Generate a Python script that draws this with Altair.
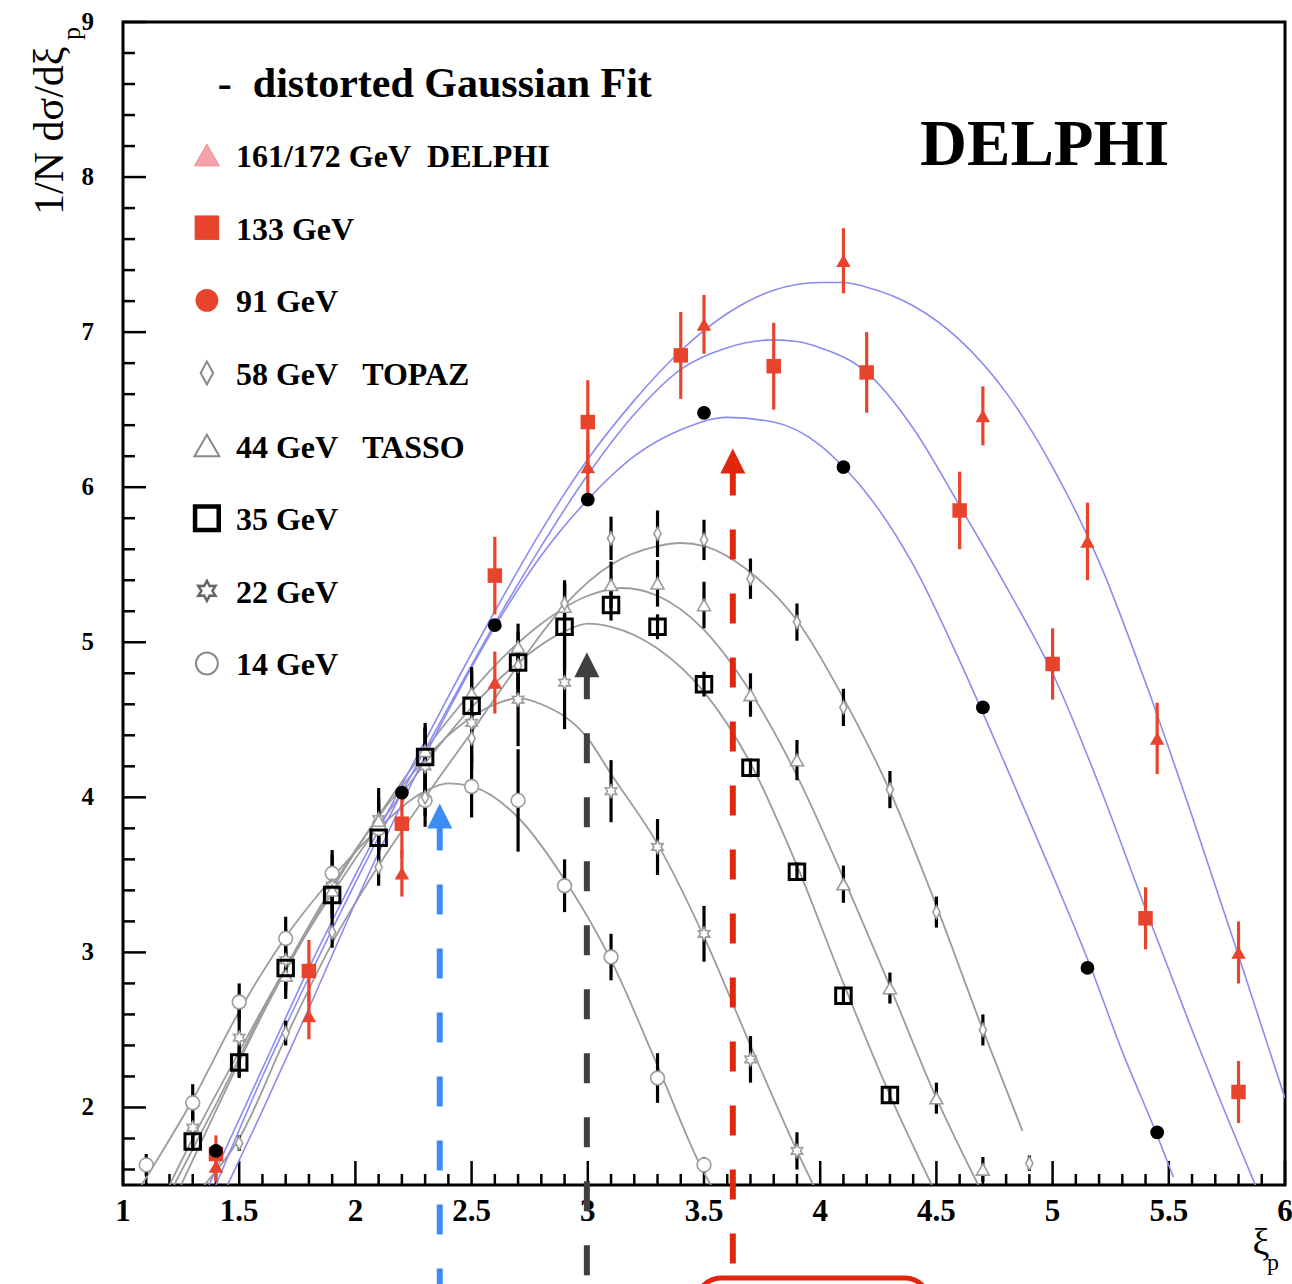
import altair as alt
import pandas as pd

# ---------------------------------------------------------------------------
# Charged-particle xi_p = ln(1/x_p) spectra, (1/N) dsigma/dxi_p, per energy
# ---------------------------------------------------------------------------
# DELPHI 161/172 GeV
xi_161 = [1.4, 1.8, 2.2, 2.6, 3.0, 3.5, 4.1, 4.7, 5.15, 5.45, 5.8]
val_161 = [1.62, 2.59, 3.51, 4.74, 6.13, 7.05, 7.46, 6.46, 5.65, 4.38, 3.0]
err_161 = [0.1, 0.15, 0.15, 0.2, 0.17, 0.19, 0.21, 0.19, 0.25, 0.23, 0.2]

# DELPHI 133 GeV
xi_133 = [1.4, 1.8, 2.2, 2.6, 3.0, 3.4, 3.8, 4.2, 4.6, 5.0, 5.4, 5.8]
val_133 = [1.70, 2.88, 3.83, 5.43, 6.42, 6.85, 6.78, 6.74, 5.85, 4.86, 3.22, 2.10]
err_133 = [0.12, 0.2, 0.22, 0.25, 0.27, 0.28, 0.28, 0.26, 0.25, 0.23, 0.2, 0.2]

# DELPHI 91 GeV
xi_91 = [1.4, 2.2, 2.6, 3.0, 3.5, 4.1, 4.7, 5.15, 5.45]
val_91 = [1.72, 4.03, 5.11, 5.92, 6.48, 6.13, 4.58, 2.90, 1.84]

# TOPAZ 58 GeV
xi_58 = [1.5, 1.7, 1.9, 2.1, 2.3, 2.5, 2.7, 2.9, 3.1, 3.3, 3.5, 3.7, 3.9, 4.1, 4.3, 4.5, 4.7, 4.9]
val_58 = [1.77, 2.48, 3.13, 3.55, 4.00, 4.38, 4.85, 5.25, 5.67, 5.70, 5.66, 5.41, 5.13, 4.58, 4.05, 3.26, 2.50, 1.64]
err_58 = [0.05, 0.08, 0.1, 0.12, 0.12, 0.15, 0.15, 0.15, 0.14, 0.15, 0.13, 0.13, 0.12, 0.12, 0.12, 0.1, 0.1, 0.05]

# TASSO 44 GeV
xi_44 = [1.7, 1.9, 2.1, 2.3, 2.5, 2.7, 2.9, 3.1, 3.3, 3.5, 3.7, 3.9, 4.1, 4.3, 4.5, 4.7]
val_44 = [2.85, 3.40, 3.85, 4.30, 4.67, 4.97, 5.23, 5.37, 5.38, 5.24, 4.66, 4.24, 3.44, 2.77, 2.06, 1.60]
err_44 = [0.15, 0.15, 0.15, 0.15, 0.15, 0.15, 0.15, 0.15, 0.15, 0.15, 0.14, 0.13, 0.12, 0.1, 0.1, 0.08]

# 35 GeV
xi_35 = [1.3, 1.5, 1.7, 1.9, 2.1, 2.3, 2.5, 2.7, 2.9, 3.1, 3.3, 3.5, 3.7, 3.9, 4.1, 4.3]
val_35 = [1.78, 2.29, 2.90, 3.37, 3.74, 4.26, 4.59, 4.87, 5.10, 5.24, 5.10, 4.73, 4.19, 3.52, 2.72, 2.08]
err_35 = [0.06, 0.1, 0.12, 0.15, 0.15, 0.22, 0.25, 0.2, 0.27, 0.1, 0.08, 0.08, 0.06, 0.06, 0.05, 0.05]

# 22 GeV
xi_22 = [1.3, 1.5, 1.7, 1.9, 2.1, 2.3, 2.5, 2.7, 2.9, 3.1, 3.3, 3.5, 3.7, 3.9]
val_22 = [1.87, 2.45, 2.95, 3.43, 3.86, 4.20, 4.48, 4.63, 4.74, 4.04, 3.68, 3.12, 2.31, 1.72]
err_22 = [0.1, 0.25, 0.2, 0.2, 0.2, 0.25, 0.3, 0.3, 0.3, 0.2, 0.18, 0.18, 0.15, 0.12]

# 14 GeV
xi_14 = [1.1, 1.3, 1.5, 1.7, 1.9, 2.1, 2.3, 2.5, 2.7, 2.9, 3.1, 3.3, 3.5]
val_14 = [1.63, 2.03, 2.68, 3.09, 3.51, 3.80, 3.98, 4.07, 3.98, 3.43, 2.97, 2.19, 1.63]
err_14 = [0.07, 0.12, 0.12, 0.14, 0.15, 0.15, 0.17, 0.2, 0.33, 0.17, 0.15, 0.16, 0.05]

# ---------------------------------------------------------------------------
# Distorted-Gaussian fit curves, sampled along xi_p
# ---------------------------------------------------------------------------
fit_xi_161 = [1.37, 1.6, 1.8, 2.0, 2.2, 2.4, 2.6, 2.8, 3.0, 3.2, 3.4, 3.6, 3.8, 4.0, 4.1,
              4.2, 4.4, 4.6, 4.8, 5.0, 5.2, 5.4, 5.6, 5.8, 6.0]
fit_val_161 = [1.5, 2.25, 2.9, 3.5, 4.08, 4.65, 5.2, 5.72, 6.18, 6.56, 6.88, 7.12, 7.27, 7.32, 7.32,
               7.29, 7.17, 6.95, 6.61, 6.13, 5.52, 4.74, 3.88, 2.98, 2.06]

fit_xi_133 = [1.4, 1.6, 1.8, 2.0, 2.2, 2.4, 2.6, 2.8, 3.0, 3.2, 3.4, 3.6, 3.8, 3.9, 4.0,
              4.2, 4.4, 4.6, 4.8, 5.0, 5.2, 5.4, 5.6, 5.8, 5.9]
fit_val_133 = [1.5, 2.2, 2.84, 3.45, 4.03, 4.58, 5.12, 5.62, 6.08, 6.47, 6.76, 6.9, 6.95, 6.94, 6.9,
               6.74, 6.38, 5.88, 5.36, 4.8, 4.08, 3.28, 2.5, 1.76, 1.4]

fit_xi_91 = [1.45, 1.6, 1.8, 2.0, 2.2, 2.4, 2.6, 2.8, 3.0, 3.2, 3.4, 3.6, 3.8, 4.0, 4.1,
             4.2, 4.4, 4.6, 4.8, 5.0, 5.16, 5.3, 5.45, 5.52]
fit_val_91 = [1.5, 1.98, 2.64, 3.32, 3.96, 4.56, 5.1, 5.56, 5.92, 6.2, 6.37, 6.45, 6.42, 6.27, 6.13,
              5.96, 5.5, 4.88, 4.2, 3.5, 2.92, 2.36, 1.82, 1.55]

fit_xi_58 = [1.35, 1.5, 1.7, 1.9, 2.1, 2.3, 2.5, 2.7, 2.9, 3.1, 3.3, 3.4, 3.5, 3.7, 3.9,
             4.1, 4.3, 4.5, 4.7, 4.87]
fit_val_58 = [1.5, 1.8, 2.45, 3.06, 3.56, 4.0, 4.42, 4.85, 5.24, 5.5, 5.62, 5.64, 5.62, 5.45, 5.14,
              4.64, 4.04, 3.3, 2.5, 1.85]

fit_xi_44 = [1.25, 1.4, 1.6, 1.8, 2.0, 2.2, 2.4, 2.6, 2.8, 3.0, 3.15, 3.3, 3.5, 3.7, 3.9,
             4.1, 4.3, 4.5, 4.68]
fit_val_44 = [1.5, 1.98, 2.6, 3.15, 3.65, 4.1, 4.5, 4.85, 5.12, 5.3, 5.35, 5.3, 5.08, 4.68, 4.14,
              3.48, 2.78, 2.06, 1.5]

fit_xi_35 = [1.2, 1.3, 1.5, 1.7, 1.9, 2.1, 2.3, 2.5, 2.7, 2.9, 3.0, 3.1, 3.3, 3.5, 3.7,
             3.9, 4.1, 4.3, 4.48]
fit_val_35 = [1.5, 1.8, 2.36, 2.9, 3.38, 3.82, 4.22, 4.58, 4.87, 5.07, 5.12, 5.1, 4.96, 4.68, 4.22,
              3.56, 2.8, 2.08, 1.5]

fit_xi_22 = [1.22, 1.4, 1.6, 1.8, 2.0, 2.2, 2.4, 2.6, 2.7, 2.8, 3.0, 3.1, 3.3, 3.5, 3.7,
             3.9, 3.98]
fit_val_22 = [1.5, 2.02, 2.62, 3.17, 3.66, 4.07, 4.4, 4.6, 4.64, 4.6, 4.38, 4.15, 3.7, 3.1, 2.4,
              1.72, 1.47]

fit_xi_14 = [1.08, 1.3, 1.5, 1.7, 1.9, 2.1, 2.3, 2.4, 2.5, 2.7, 2.9, 3.1, 3.3, 3.5, 3.53]
fit_val_14 = [1.5, 2.05, 2.62, 3.1, 3.48, 3.8, 4.04, 4.09, 4.07, 3.87, 3.47, 2.95, 2.27, 1.58, 1.5]

# Peak positions marked by arrows (14, 35 and 91 GeV) and the arrow tip heights
peak_xi = [2.363, 2.996, 3.624]
arrow_tip = [3.96, 4.935, 6.25]

# Legend entries
legend_text = [
    "161/172 GeV\u00a0\u00a0DELPHI",
    "133 GeV",
    "\u00a091 GeV",
    "\u00a058 GeV\u00a0\u00a0\u00a0TOPAZ",
    "\u00a044 GeV\u00a0\u00a0\u00a0TASSO",
    "\u00a035 GeV",
    "\u00a022 GeV",
    "\u00a014 GeV",
]

# Axis ticks and their labels
x_major = [1, 1.5, 2, 2.5, 3, 3.5, 4, 4.5, 5, 5.5, 6]
x_labels = ["1", "1.5", "2", "2.5", "3", "3.5", "4", "4.5", "5", "5.5", "6"]
y_major = [2, 3, 4, 5, 6, 7, 8, 9]
y_labels = ["2", "3", "4", "5", "6", "7", "8", "9"]
x_minor = [round(1 + 0.1 * i, 1) for i in range(51) if i % 5 != 0]
y_minor = [round(1.6 + 0.2 * i, 1) for i in range(37) if round(1.6 + 0.2 * i, 1) % 1 != 0]

# ---------------------------------------------------------------------------
# Styling
# ---------------------------------------------------------------------------
SERIF = "Liberation Serif"
RED = "#E8432D"
GREY = "#9c9c9c"
BLUE_FIT = "#8a8cf2"
W, H = 1162, 1163

STAR = ("M0,-1L0.275,-0.476L0.866,-0.5L0.55,0L0.866,0.5L0.275,0.476L0,1"
        "L-0.275,0.476L-0.866,0.5L-0.55,0L-0.866,-0.5L-0.275,-0.476Z")
NARROW_DIAMOND = "M0,-1L0.55,0L0,1L-0.55,0Z"
ARROW_HEAD = "M0,0L0.5,1L-0.5,1Z"

XS = alt.Scale(domain=[1, 6], nice=False, zero=False)
YS = alt.Scale(domain=[1.5, 9], nice=False, zero=False)


def X(field):
    return alt.X(field, type="quantitative", scale=XS, axis=None)


def Y(field):
    return alt.Y(field, type="quantitative", scale=YS, axis=None)


def frame(xs, ys, errs=None):
    df = pd.DataFrame({"xi": xs, "val": ys})
    if errs is not None:
        df["lo"] = [v - e for v, e in zip(ys, errs)]
        df["hi"] = [v + e for v, e in zip(ys, errs)]
    return df


layers = []

# Inward tick marks
layers.append(alt.Chart(pd.DataFrame({"xi": x_major})).mark_rule(color="#000", strokeWidth=2.5)
              .encode(x=X("xi"), y=alt.value(H), y2=alt.value(H - 24)))
layers.append(alt.Chart(pd.DataFrame({"xi": x_minor})).mark_rule(color="#000", strokeWidth=2.5)
              .encode(x=X("xi"), y=alt.value(H), y2=alt.value(H - 11)))
layers.append(alt.Chart(pd.DataFrame({"val": y_major})).mark_rule(color="#000", strokeWidth=2.5)
              .encode(y=Y("val"), x=alt.value(0), x2=alt.value(23)))
layers.append(alt.Chart(pd.DataFrame({"val": y_minor})).mark_rule(color="#000", strokeWidth=2.5)
              .encode(y=Y("val"), x=alt.value(0), x2=alt.value(12)))

# Tick labels
layers.append(alt.Chart(pd.DataFrame({"xi": x_major, "t": x_labels})).mark_text(
    font=SERIF, fontSize=31, fontWeight="bold", align="center", baseline="middle",
    color="#000", clip=False
).encode(x=X("xi"), y=alt.value(H + 27), text="t:N"))
layers.append(alt.Chart(pd.DataFrame({"val": y_major, "t": y_labels})).mark_text(
    font=SERIF, fontSize=25, fontWeight="bold", align="right", baseline="middle",
    color="#000", clip=False
).encode(y=Y("val"), x=alt.value(-29), text="t:N"))

# Fit curves
for fx, fy, col, sw in [
    (fit_xi_14, fit_val_14, GREY, 1.8),
    (fit_xi_22, fit_val_22, GREY, 1.8),
    (fit_xi_35, fit_val_35, GREY, 1.8),
    (fit_xi_44, fit_val_44, GREY, 1.8),
    (fit_xi_58, fit_val_58, GREY, 1.8),
    (fit_xi_91, fit_val_91, BLUE_FIT, 1.6),
    (fit_xi_133, fit_val_133, BLUE_FIT, 1.6),
    (fit_xi_161, fit_val_161, BLUE_FIT, 1.6),
]:
    layers.append(alt.Chart(frame(fx, fy)).mark_line(
        interpolate="monotone", color=col, strokeWidth=sw, clip=True
    ).encode(x=X("xi"), y=Y("val")))

# Error bars
for xs, ys, es, col in [
    (xi_14, val_14, err_14, "#000"),
    (xi_22, val_22, err_22, "#000"),
    (xi_35, val_35, err_35, "#000"),
    (xi_44, val_44, err_44, "#000"),
    (xi_58, val_58, err_58, "#000"),
    (xi_133, val_133, err_133, RED),
    (xi_161, val_161, err_161, RED),
]:
    layers.append(alt.Chart(frame(xs, ys, es)).mark_rule(
        color=col, strokeWidth=3.2, clip=True
    ).encode(x=X("xi"), y=Y("lo"), y2="hi"))

# Data points
point_styles = [
    (xi_14, val_14, dict(shape="circle", size=190, filled=True, fill="#fff", stroke=GREY, strokeWidth=1.6)),
    (xi_22, val_22, dict(shape=STAR, size=170, filled=True, fill="#fff", stroke=GREY, strokeWidth=1.6)),
    (xi_44, val_44, dict(shape="triangle-up", size=170, filled=True, fill="#fff", stroke=GREY, strokeWidth=1.6)),
    (xi_58, val_58, dict(shape=NARROW_DIAMOND, size=170, filled=True, fill="#fff", stroke=GREY, strokeWidth=1.6)),
    (xi_35, val_35, dict(shape="square", size=240, filled=False, stroke="#000", strokeWidth=3)),
    (xi_133, val_133, dict(shape="square", size=210, filled=True, fill=RED, strokeWidth=0)),
    (xi_161, val_161, dict(shape="triangle-up", size=210, filled=True, fill=RED, strokeWidth=0)),
    (xi_91, val_91, dict(shape="circle", size=190, filled=True, fill="#000", strokeWidth=0)),
]
for xs, ys, st in point_styles:
    layers.append(alt.Chart(frame(xs, ys)).mark_point(opacity=1, clip=True, **st)
                  .encode(x=X("xi"), y=Y("val")))

# Dashed peak-position arrows
arrow_colors = ["#3C8CF5", "#404040", "#E2260C"]
for px_, tip, col in zip(peak_xi, arrow_tip, arrow_colors):
    adf = pd.DataFrame({"xi": [px_], "val": [tip]})
    layers.append(alt.Chart(adf).mark_rule(
        color=col, strokeWidth=6, strokeDash=[30, 34], strokeDashOffset=47, clip=False
    ).encode(x=X("xi"), y=Y("val"), y2=alt.value(H + 99)))
    layers.append(alt.Chart(adf).mark_point(
        shape=ARROW_HEAD, size=2500, filled=True, fill=col, opacity=1, strokeWidth=0, clip=False
    ).encode(x=X("xi"), y=Y("val")))

# Rounded annotation box below the axis
layers.append(alt.Chart(pd.DataFrame({"k": [0]})).mark_rect(
    fillOpacity=0, stroke="#E2260C", strokeWidth=5, cornerRadius=24, clip=False
).encode(x=alt.value(574), x2=alt.value(806), y=alt.value(H + 93), y2=alt.value(H + 200)))

# Legend
LEG_X_SYM, LEG_X_TXT = 1.361, 1.486
LEG_TOP, LEG_STEP = 8.065, 0.4684
legend_symbols = [
    dict(shape="triangle-up", size=620, filled=True, fill="#F4A3A8", stroke="#EC8A92", strokeWidth=1),
    dict(shape="square", size=600, filled=True, fill=RED, strokeWidth=0),
    dict(shape="circle", size=520, filled=True, fill=RED, strokeWidth=0),
    dict(shape=NARROW_DIAMOND, size=520, filled=True, fill="#fff", stroke="#8a8a8a", strokeWidth=2),
    dict(shape="triangle-up", size=620, filled=True, fill="#fff", stroke="#8a8a8a", strokeWidth=2),
    dict(shape="square", size=560, filled=False, stroke="#000", strokeWidth=4.5),
    dict(shape=STAR, size=400, filled=True, fill="#fff", stroke="#666", strokeWidth=2.5),
    dict(shape="circle", size=480, filled=True, fill="#fff", stroke="#8a8a8a", strokeWidth=2),
]
for i, (txt, sym) in enumerate(zip(legend_text, legend_symbols)):
    base = LEG_TOP - i * LEG_STEP
    layers.append(alt.Chart(pd.DataFrame({"xi": [LEG_X_SYM], "val": [base + 0.077]}))
                  .mark_point(opacity=1, **sym).encode(x=X("xi"), y=Y("val")))
    layers.append(alt.Chart(pd.DataFrame({"xi": [LEG_X_TXT], "val": [base], "t": [txt]}))
                  .mark_text(font=SERIF, fontSize=32, fontWeight="bold", align="left",
                             baseline="alphabetic", color="#000")
                  .encode(x=X("xi"), y=Y("val"), text="t:N"))

layers.append(alt.Chart(pd.DataFrame({"xi": [1.408], "val": [8.516],
                                      "t": ["-\u00a0\u00a0distorted Gaussian Fit"]}))
              .mark_text(font=SERIF, fontSize=42, fontWeight="bold", align="left",
                         baseline="alphabetic", color="#000")
              .encode(x=X("xi"), y=Y("val"), text="t:N"))

layers.append(alt.Chart(pd.DataFrame({"xi": [4.966], "val": [8.206], "t": ["DELPHI"]}))
              .mark_text(font=SERIF, fontSize=65, fontWeight="bold", align="center",
                         baseline="middle", color="#000")
              .encode(x=X("xi"), y=Y("val"), text="t:N"))

# Axis titles
layers.append(alt.Chart(pd.DataFrame({"t": ["1/N d\u03c3/d\u03be"]})).mark_text(
    font=SERIF, fontSize=42, angle=270, align="left", baseline="alphabetic", color="#000", clip=False
).encode(x=alt.value(-60), y=alt.value(193), text="t:N"))
layers.append(alt.Chart(pd.DataFrame({"t": ["p"]})).mark_text(
    font=SERIF, fontSize=26, angle=270, align="left", baseline="alphabetic", color="#000", clip=False
).encode(x=alt.value(-43), y=alt.value(18), text="t:N"))
layers.append(alt.Chart(pd.DataFrame({"t": ["\u03be"]})).mark_text(
    font=SERIF, fontSize=38, align="center", baseline="alphabetic", color="#000", clip=False
).encode(x=alt.value(1138), y=alt.value(1233), text="t:N"))
layers.append(alt.Chart(pd.DataFrame({"t": ["p"]})).mark_text(
    font=SERIF, fontSize=24, align="center", baseline="alphabetic", color="#000", clip=False
).encode(x=alt.value(1150), y=alt.value(1248), text="t:N"))

chart = (
    alt.layer(*layers)
    .properties(
        width=W,
        height=H,
        padding={"left": 123, "top": 22, "right": 7, "bottom": 99},
        autosize=alt.AutoSizeParams(type="none"),
        background="white",
    )
    .configure_view(stroke="#000", strokeWidth=3)
)

chart.save("out.html", embed_options={"renderer": "svg", "actions": False})
